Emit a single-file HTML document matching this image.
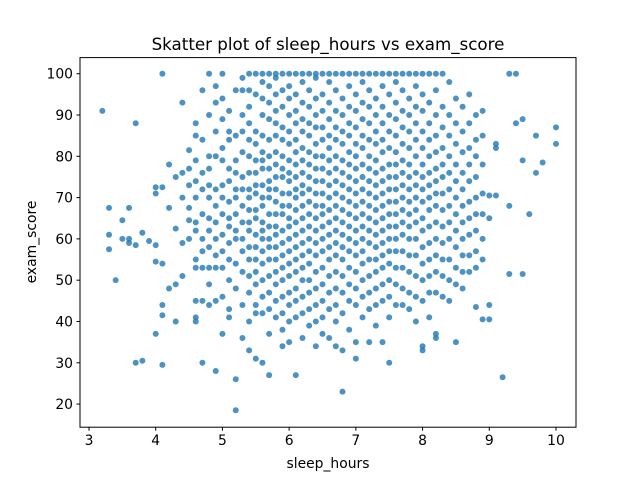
<!DOCTYPE html>
<html><head><meta charset="utf-8"><style>
body{margin:0;background:#fff}
svg{display:block;font-family:"DejaVu Sans","Liberation Sans",sans-serif}
</style></head><body>
<svg id="chart" width="640" height="480">
<rect width="640" height="480" fill="#fff"/>
<text x="328" y="50" text-anchor="middle" font-size="16.7">Skatter plot of sleep_hours vs exam_score</text>
<g id="pts"></g>
<rect x="80" y="57.6" width="496" height="369.6" fill="none" stroke="#000" stroke-width="1"/>
<g id="xt"></g>
<g id="yt"></g>
<text x="328" y="468" text-anchor="middle" font-size="13.9">sleep_hours</text>
<text x="36" y="242" text-anchor="middle" font-size="13.9" transform="rotate(-90 36 242)">exam_score</text>
</svg>
<script>
const xTicks=[3,4,5,6,7,8,9,10];
const yTicks=[20,30,40,50,60,70,80,90,100];
const sleepCols=[3.2,3.3,3.4,3.5,3.6,3.7,3.8,3.9,4.0,4.1,4.2,4.3,4.4,4.5,4.6,4.7,4.8,4.9,5.0,5.1,5.2,5.3,5.4,5.5,5.6,5.7,5.8,5.9,6.0,6.1,6.2,6.3,6.4,6.5,6.6,6.7,6.8,6.9,7.0,7.1,7.2,7.3,7.4,7.5,7.6,7.7,7.8,7.9,8.0,8.1,8.2,8.3,8.4,8.5,8.6,8.7,8.8,8.9,9.0,9.1,9.2,9.3,9.4,9.5,9.6,9.7,9.8,10.0];
const scoreCols=[
[91],[67.5,61,57.5],[50],[64.5,60],[67.5,59,60],[88,30,58.5],[30.5,61.5],[59.5],
[72.5,71,54.5,37,58.5],[72.5,100,44,29.5,54,41.5],[78,67.5,48],[75,49,40,62.5],[93,76,70,59,51],[81.5,77,73,67.5,64.5,60],
[88,85,79,74,70,64,62,55,53,45,41,40],
[96,84,76,72,66,60,57,53,45,30],
[100,90,80,77,73,70,65,62,58,53,49,44],
[97,93,86,80,72,68,64,60,56,53,45,28],
[100,94,89,82,79,73,70,66,61,57,53,46,37],
[91,86,84,77,74,69,65,63,59,55,50,43,41],
[96,85,79,76,72,70,66,62,60,54,48,18.5,26],
[99,96,90,86,81,75,72,68,64,60,57,52,44,36],
[100,96,92,88,84,80,76,72,70,67,64,62,58,55,51,47,40,33],
[100,95,86,83,79,76,73,71,67,65,61,58,55,52,49,44,42,31],
[100,98,94,90,85,81,79,77,73,70,68,64,62,60,57,54,50,46,42,30],
[100,97,93,89,84,80,77,74,72,70,66,63,60,58,55,51,47,43,37,27],
[100,99,95,91,88,85,81,78,75,72,69,66,63,61,58,55,52,49,45,41],
[100,96,92,87,84,80,77,75,71,68,66,62,59,56,53,50,46,42,38,34],
[100,97,94,90,86,83,79,76,74,71,68,65,63,60,57,54,51,47,44,40,35],
[100,95,91,88,84,81,78,75,72,70,67,64,61,58,55,52,48,45,41,27],
[100,98,93,89,86,82,79,76,73,71,68,65,62,59,56,53,50,46,42,36],
[100,96,92,88,85,81,78,75,72,69,66,63,60,57,54,50,47,43,39],
[100,99,94,90,87,83,80,77,74,71,68,65,62,59,56,52,48,44,40,34],
[100,95,91,87,84,80,77,74,71,68,66,63,60,57,53,49,45,41,37],
[100,98,93,89,85,82,79,76,73,70,67,64,61,58,55,51,47,43,36],
[100,96,91,87,84,80,77,74,71,68,65,62,59,56,52,48,44,40,34],
[100,94,90,86,83,79,76,73,70,67,64,61,58,55,51,47,42,33,23],
[100,97,92,88,85,81,78,75,72,69,66,63,60,57,53,49,45,38],
[100,95,91,87,83,80,77,74,71,68,65,62,59,56,52,48,44,35,31],
[100,98,93,89,85,82,78,75,72,69,66,63,60,57,54,50,46,41],
[100,96,92,88,84,80,77,74,71,68,65,62,59,55,51,47,43,35],
[100,94,90,86,83,79,76,73,70,67,64,61,58,55,52,48,44,39],
[100,97,92,88,84,81,77,74,71,68,65,62,59,56,53,49,45,35],
[100,95,90,86,82,78,75,72,69,66,63,60,57,54,50,46,41,30],
[100,98,93,89,85,81,78,75,72,69,66,63,60,57,53,49,44],
[100,96,91,87,83,79,76,73,70,67,64,61,57,53,48,44],
[100,94,90,86,82,78,75,72,69,66,63,60,56,52,47,43],
[100,97,92,88,84,80,76,73,70,67,64,60,56,51,46,40],
[100,95,91,86,82,78,75,72,69,65,62,58,54,50,45,34,33],
[100,93,88,84,80,76,73,70,67,63,59,55,51,47,41],
[100,96,90,85,81,77,74,71,68,64,60,56,52,47,37,36],
[100,92,87,82,78,75,71,67,63,59,55,51,46],
[98,90,85,80,76,72,68,64,60,55,50,45],
[94,88,83,78,74,70,66,62,58,53,49,35],
[92,86,81,76,72,68,64,60,56,52,48],
[95,88,82,78,74,69,65,61,56,52],
[90,84,80,75,70,66,62,57,53,43.5],
[91,85,78,71,66,60,55,40.5],
[70.5,65,44,40.5],[83,82,70.5],[26.5],[100,68,51.5],[100,88],[51.5,89,79],[66],[85,76],[78.5],[87,83]
];
const X0=80,X1=576,Y0=57.6,Y1=427.2,xmin=2.865,xmax=10.3,ymin=14.4,ymax=103.9;
function sx(v){return X0+(v-xmin)/(xmax-xmin)*(X1-X0);}
function sy(v){return Y1-(v-ymin)/(ymax-ymin)*(Y1-Y0);}
const NS="http://www.w3.org/2000/svg";
const pts=document.getElementById('pts');
sleepCols.forEach((h,i)=>{scoreCols[i].forEach(s=>{
  const c=document.createElementNS(NS,'circle');
  c.setAttribute('cx',sx(h));c.setAttribute('cy',sy(s));c.setAttribute('r',3);
  c.setAttribute('fill','#1f77b4');c.setAttribute('fill-opacity','0.8');
  
  
  pts.appendChild(c);
});});
const xt=document.getElementById('xt');
xTicks.forEach(t=>{
  const x=sx(t);
  const l=document.createElementNS(NS,'line');
  l.setAttribute('x1',x);l.setAttribute('x2',x);l.setAttribute('y1',Y1);l.setAttribute('y2',Y1+3.5);l.setAttribute('stroke','#000');
  
  
  xt.appendChild(l);
  const tx=document.createElementNS(NS,'text');
  tx.setAttribute('x',x);tx.setAttribute('y',Y1+18);tx.setAttribute('text-anchor','middle');tx.setAttribute('font-size','13.9');
  tx.textContent=t;
  
  
  xt.appendChild(tx);
});
const yt=document.getElementById('yt');
yTicks.forEach(t=>{
  const y=sy(t);
  const l=document.createElementNS(NS,'line');
  l.setAttribute('x1',X0-3.5);l.setAttribute('x2',X0);l.setAttribute('y1',y);l.setAttribute('y2',y);l.setAttribute('stroke','#000');
  
  
  yt.appendChild(l);
  const tx=document.createElementNS(NS,'text');
  tx.setAttribute('x',X0-7);tx.setAttribute('y',y+5);tx.setAttribute('text-anchor','end');tx.setAttribute('font-size','13.9');
  tx.textContent=t;
  
  
  yt.appendChild(tx);
});
</script>
</body></html>
